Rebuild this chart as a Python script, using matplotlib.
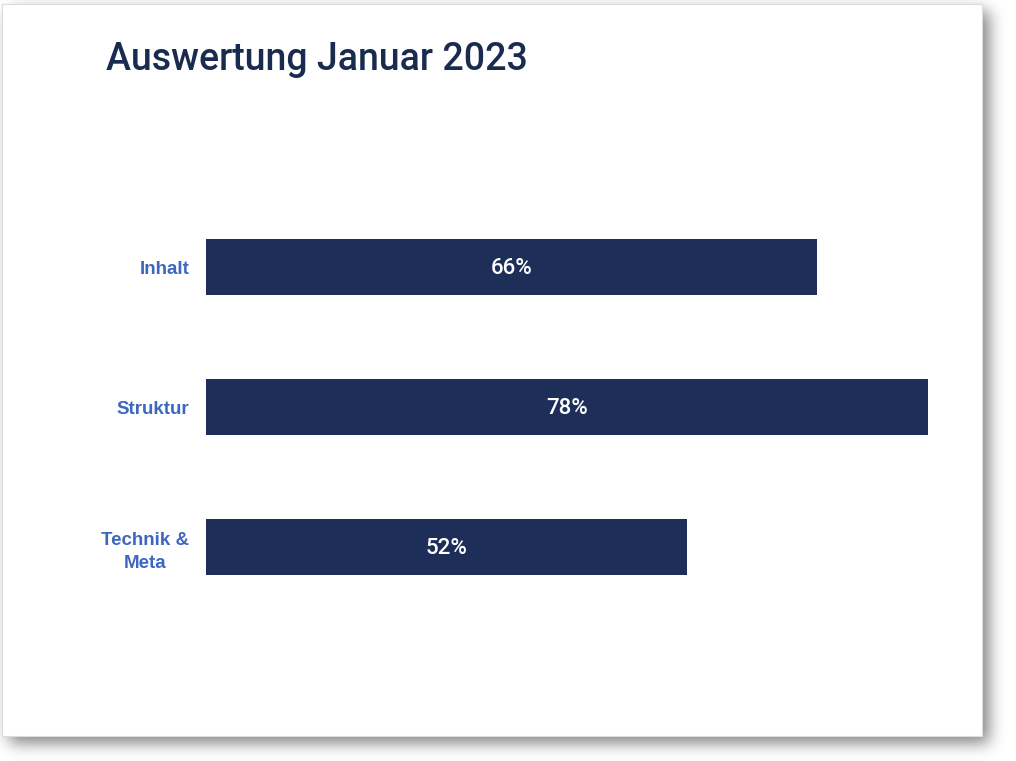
import matplotlib
matplotlib.use('Agg')
import numpy as np
import matplotlib.pyplot as plt
from matplotlib.patches import Rectangle

categories = ['Inhalt', 'Struktur', 'Technik &\nMeta']
values = [66, 78, 52]
value_labels = ['66%', '78%', '52%']

bar_color = '#1d2f59'
label_color = '#3e67c0'
title_color = '#1a2b50'

W, H = 1016, 761
fig = plt.figure(figsize=(W / 100, H / 100), dpi=100)
fig.patch.set_facecolor('white')

# soft drop shadow behind the card, blurred with a plain gaussian kernel
card = (2, 4, 982, 736)  # left, top, right, bottom in pixels
mask = np.zeros((H, W))
dx, dy = 7, 7
mask[card[1] + dy:card[3] + dy, card[0] + dx:card[2] + dx] = 1.0
k = np.exp(-0.5 * (np.arange(-24, 25) / 8.0) ** 2)
k /= k.sum()
mask = np.apply_along_axis(lambda r: np.convolve(r, k, mode='same'), 1, mask)
mask = np.apply_along_axis(lambda c: np.convolve(c, k, mode='same'), 0, mask)
shadow = np.zeros((H, W, 4))
shadow[..., 3] = mask * 0.5
fig.figimage(shadow, xo=0, yo=0, origin='upper', zorder=0)

fig.add_artist(Rectangle((card[0] / W, 1 - card[3] / H), (card[2] - card[0]) / W,
                         (card[3] - card[1]) / H, transform=fig.transFigure,
                         facecolor='white', edgecolor='#dcdcdc', linewidth=0.8, zorder=1))

fig.text(106 / W, 1 - 59 / H, 'Auswertung Januar 2023', color=title_color,
         fontsize=27, fontfamily='Roboto', fontweight='medium',
         va='center', ha='left', zorder=3)

ax = fig.add_axes([206 / W, 1 - 617 / H, 740 / W, 420 / H])
ax.set_zorder(2)
ax.patch.set_visible(False)
ys = list(range(len(categories)))
ax.barh(ys, values, height=0.4, color=bar_color)
ax.set_xlim(0, 80)
ax.set_ylim(2.5, -0.5)
for y, v, t in zip(ys, values, value_labels):
    ax.text(v / 2, y + 0.012, t, color='white', fontsize=16, fontweight='medium',
            fontfamily='Roboto', ha='center', va='center')
ax.set_yticks(ys)
ax.set_yticklabels(categories, color=label_color, fontsize=13.5, fontweight='bold',
                   fontfamily='Liberation Sans', multialignment='center',
                   linespacing=1.5)
ax.tick_params(axis='y', length=0, pad=12)
ax.set_xticks([])
for s in ax.spines.values():
    s.set_visible(False)

fig.savefig('out.png', dpi=100)
